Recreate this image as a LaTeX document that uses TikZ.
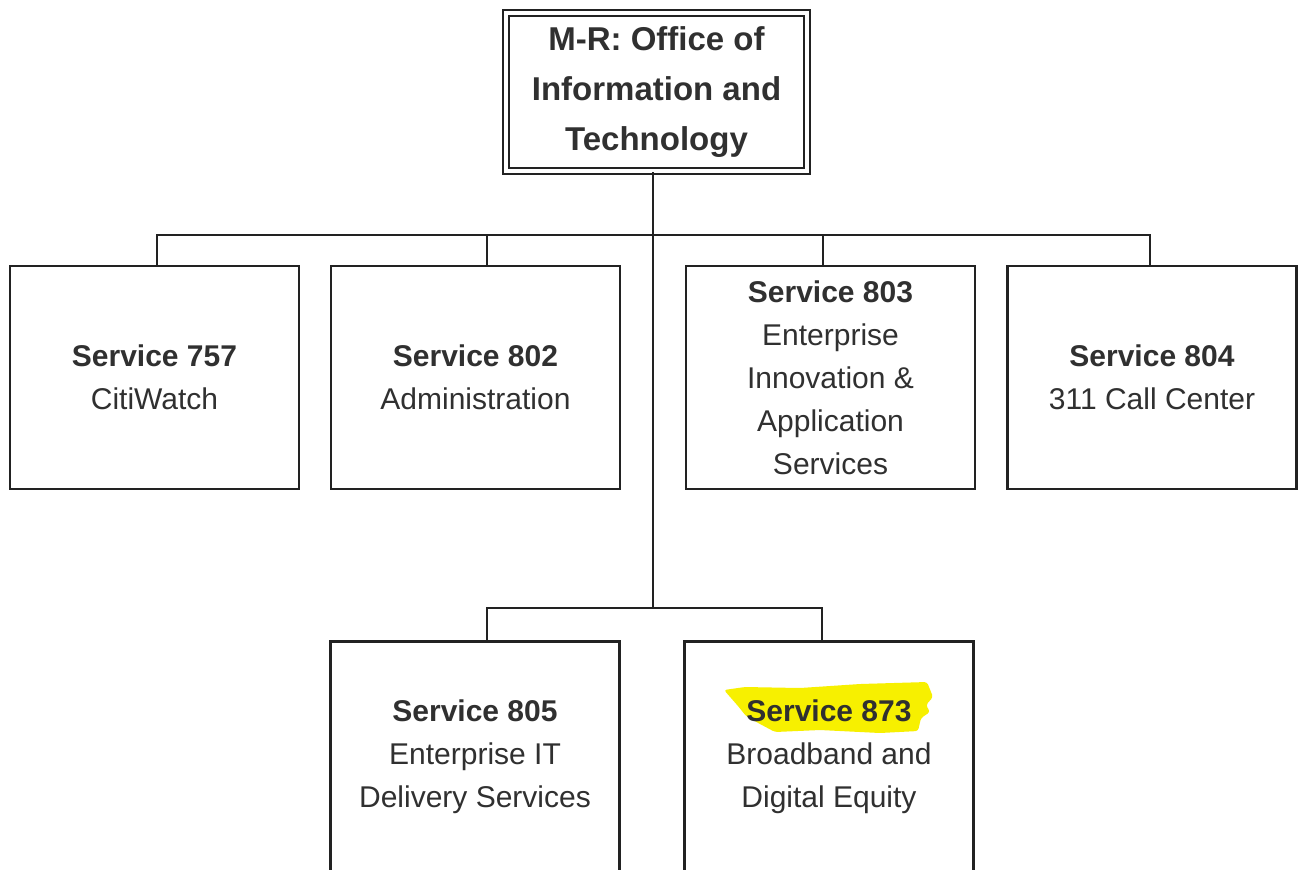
\documentclass[tikz,border=0pt]{standalone}
\usepackage{fontspec}
\setmainfont{Liberation Sans}
\definecolor{ink}{HTML}{303030}
\definecolor{linec}{HTML}{222222}
\definecolor{hl}{HTML}{F7F000}
\begin{document}
\begin{tikzpicture}[x=0.75pt,y=-0.75pt,
  box/.style={draw=linec, line width=1.9pt, minimum width=216.75pt, minimum height=167.25pt, inner sep=0pt, align=center, text=ink, font=\fontsize{22.5}{32.25}\selectfont},
  lowbox/.style={box, minimum height=172.5pt, anchor=north},
  titlebox/.style={draw=linec, line width=1.8pt, double, double distance=3.1pt, minimum width=225.75pt, minimum height=118.5pt, inner sep=0pt, align=center, text=ink, font=\bfseries\fontsize{24.75}{37.5}\selectfont},
  conn/.style={draw=linec, line width=1.9pt}]
\useasboundingbox (0,0) rectangle (1298,869);
\clip (0,0) rectangle (1298,869);
\fill[white] (0,0) rectangle (1298,869);
% highlight
\fill[hl, rounded corners=2pt] (724,690) -- (745,687) -- (800,688) -- (860,684) -- (927,682) -- (933,697) -- (926,705) -- (930,712) -- (921,718) -- (918,731) -- (880,733) -- (820,730) -- (775,732) -- (760,724) -- (746,716) -- (738,706) -- cycle;
% nodes
\node[titlebox] (top) at (656.5,92) {\raisebox{-1.5pt}{M-R: Office of}\\\raisebox{-1.5pt}{Information and}\\\raisebox{-1.5pt}{Technology}};
\node[box] (b1) at (154.5,377.5) {\textbf{Service 757}\\CitiWatch};
\node[box] (b2) at (475.5,377.5) {\textbf{Service 802}\\Administration};
\node[box] (b3) at (830.5,377.5) {\textbf{Service 803}\\Enterprise\\Innovation \&\\Application\\Services};
\node[box] (b4) at (1152,377.5) {\textbf{Service 804}\\311 Call Center};
\node[lowbox] (b5) at (475,640) {\textbf{Service 805}\\Enterprise IT\\Delivery Services};
\node[lowbox] (b6) at (829,640) {\textbf{Service 873}\\Broadband and\\Digital Equity};
% junctions
\coordinate (j1) at (653,235);
\coordinate (j2) at (653,608);
% connectors
\draw[conn] (top.south -| j1) -- (j2);
\draw[conn] ([xshift=1.9pt]b1.north) -- ([xshift=1.9pt]b1.north |- j1) -- ([xshift=-1.5pt]b4.north |- j1) -- ([xshift=-1.5pt]b4.north);
\draw[conn] ([xshift=8.6pt]b2.north) -- ([xshift=8.6pt]b2.north |- j1);
\draw[conn] ([xshift=-5.6pt]b3.north) -- ([xshift=-5.6pt]b3.north |- j1);
\draw[conn] ([xshift=9pt]b5.north) -- ([xshift=9pt]b5.north |- j2) -- ([xshift=-5.25pt]b6.north |- j2) -- ([xshift=-5.25pt]b6.north);
\end{tikzpicture}
\end{document}
